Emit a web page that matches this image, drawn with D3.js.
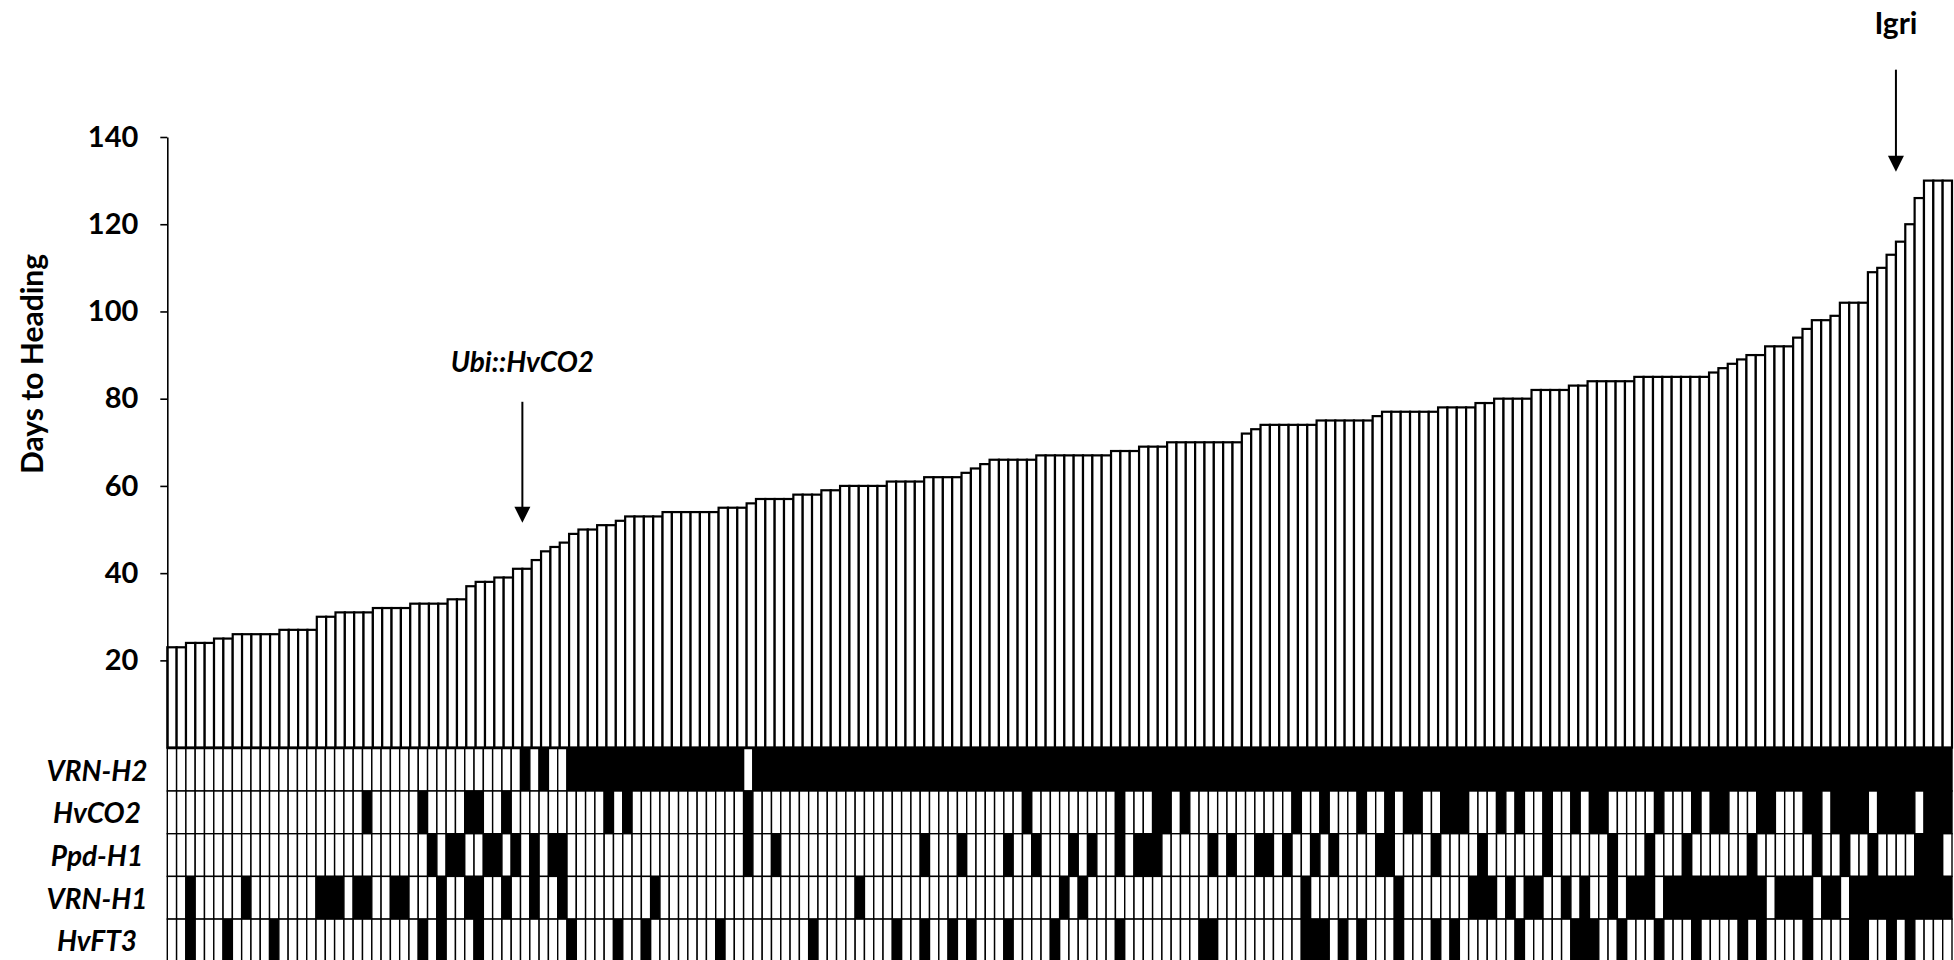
<!DOCTYPE html>
<html>
<head>
<meta charset="utf-8">
<script src="https://cdn.jsdelivr.net/npm/d3@7"></script>
<style>
  body { margin: 0; background: #fff; }
  text { font-family: Lato, "Open Sans", sans-serif; font-weight: bold; fill: #000; }
</style>
</head>
<body>
<div id="chart"></div>
<script>
// days to heading, one value per line, sorted
var daysToHeading = [
  23, 23, 24, 24, 24, 25, 25, 26, 26, 26, 26, 26, 27, 27, 27, 27,
  30, 30, 31, 31, 31, 31, 32, 32, 32, 32, 33, 33, 33, 33, 34, 34,
  37, 38, 38, 39, 39, 41, 41, 43, 45, 46, 47, 49, 50, 50, 51, 51,
  52, 53, 53, 53, 53, 54, 54, 54, 54, 54, 54, 55, 55, 55, 56, 57,
  57, 57, 57, 58, 58, 58, 59, 59, 60, 60, 60, 60, 60, 61, 61, 61,
  61, 62, 62, 62, 62, 63, 64, 65, 66, 66, 66, 66, 66, 67, 67, 67,
  67, 67, 67, 67, 67, 68, 68, 68, 69, 69, 69, 70, 70, 70, 70, 70,
  70, 70, 70, 72, 73, 74, 74, 74, 74, 74, 74, 75, 75, 75, 75, 75,
  75, 76, 77, 77, 77, 77, 77, 77, 78, 78, 78, 78, 79, 79, 80, 80,
  80, 80, 82, 82, 82, 82, 83, 83, 84, 84, 84, 84, 84, 85, 85, 85,
  85, 85, 85, 85, 85, 86, 87, 88, 89, 90, 90, 92, 92, 92, 94, 96,
  98, 98, 99, 102, 102, 102, 109, 110, 113, 116, 120, 126, 130, 130, 130
];

var genes = ["VRN-H2", "HvCO2", "Ppd-H1", "VRN-H1", "HvFT3"];
var matrixColumns = 192;

// black cells per gene, as [first, last] column runs
var vrnH2Runs = [[38, 38], [40, 40], [43, 61], [63, 191]];
var hvCO2Runs = [[21, 21], [27, 27], [32, 33], [36, 36], [47, 47], [49, 49], [62, 62], [92, 92],
  [102, 102], [106, 107], [109, 109], [121, 121], [124, 124], [128, 128], [131, 131], [133, 134],
  [137, 139], [143, 143], [145, 145], [148, 148], [151, 151], [153, 154], [160, 160], [164, 164],
  [166, 167], [171, 172], [176, 177], [179, 182], [184, 187], [189, 191]];
var ppdH1Runs = [[28, 28], [30, 31], [34, 35], [37, 37], [39, 39], [41, 42], [62, 62], [65, 65],
  [81, 81], [85, 85], [90, 90], [93, 93], [97, 97], [99, 99], [102, 102], [104, 106], [112, 112],
  [114, 114], [117, 118], [120, 120], [123, 123], [125, 125], [130, 131], [136, 136], [141, 141],
  [148, 148], [155, 155], [159, 159], [163, 163], [170, 170], [177, 177], [180, 180], [183, 183],
  [188, 190]];
var vrnH1Runs = [[2, 2], [8, 8], [16, 18], [20, 21], [24, 25], [29, 29], [32, 33], [36, 36],
  [39, 39], [42, 42], [52, 52], [74, 74], [96, 96], [98, 98], [122, 122], [132, 132], [140, 142],
  [144, 144], [146, 147], [150, 150], [152, 152], [155, 155], [157, 159], [161, 171], [173, 176],
  [178, 179], [181, 191]];
var hvFT3Runs = [[2, 2], [6, 6], [11, 11], [27, 27], [29, 29], [33, 33], [43, 43], [48, 48],
  [51, 51], [59, 59], [69, 69], [78, 78], [81, 81], [84, 84], [86, 86], [90, 90], [95, 95],
  [102, 102], [111, 112], [122, 124], [126, 126], [128, 128], [132, 132], [136, 136], [138, 138],
  [145, 145], [151, 153], [156, 156], [160, 160], [164, 164], [169, 169], [171, 171], [176, 176],
  [181, 182], [185, 185], [187, 187]];

var yTicks = [20, 40, 60, 80, 100, 120, 140];
var notes = [
  { label: "Ubi::HvCO2", bar: 38, italic: true },
  { label: "Igri", bar: 185, italic: false }
];

var W = 1954, H = 960;
var svg = d3.select("#chart").append("svg")
    .attr("width", W)
    .attr("height", H);

var x = d3.scaleBand()
    .domain(d3.range(daysToHeading.length))
    .range([167.3, 1952])
    .padding(0);
var y = d3.scaleLinear()
    .domain([0, 140])
    .range([747.6, 137]);

// bars
svg.append("g").selectAll("rect")
    .data(daysToHeading)
  .enter().append("rect")
    .attr("x", function(d, i) { return x(i); })
    .attr("width", x.bandwidth())
    .attr("y", function(d) { return y(d); })
    .attr("height", function(d) { return y(0) - y(d); })
    .attr("fill", "#fff")
    .attr("stroke", "#000")
    .attr("stroke-width", 2.2);

// y axis
var yAxis = svg.append("g")
    .attr("transform", "translate(167.3,0)")
    .call(d3.axisLeft(y).tickValues(yTicks).tickSize(7).tickSizeOuter(0).tickPadding(22));
yAxis.select(".domain").attr("stroke-width", 1.6);
yAxis.selectAll(".tick line").attr("stroke-width", 1.6);
yAxis.selectAll("text")
    .style("font-family", "Lato, 'Open Sans', sans-serif")
    .style("font-weight", "bold")
    .style("font-size", "29px");

svg.append("text")
    .attr("transform", "translate(31,364) rotate(-90)")
    .attr("text-anchor", "middle")
    .attr("dominant-baseline", "central")
    .style("font-size", "30px")
    .text("Days to Heading");

// genotype matrix
var xm = d3.scaleBand()
    .domain(d3.range(matrixColumns))
    .range([167.3, 1952]);
var rowY = d3.scaleBand()
    .domain(genes)
    .range([748.3, 961.8]);

function expand(runs) {
  var cells = d3.range(matrixColumns).map(function() { return 0; });
  runs.forEach(function(r) {
    for (var c = r[0]; c <= r[1]; c++) cells[c] = 1;
  });
  return cells;
}
var geneRuns = [vrnH2Runs, hvCO2Runs, ppdH1Runs, vrnH1Runs, hvFT3Runs];
var cellData = [];
genes.forEach(function(g, gi) {
  expand(geneRuns[gi]).forEach(function(v, c) {
    cellData.push({ gene: g, col: c, black: v });
  });
});

svg.append("g").selectAll("rect")
    .data(cellData)
  .enter().append("rect")
    .attr("x", function(d) { return xm(d.col); })
    .attr("y", function(d) { return rowY(d.gene); })
    .attr("width", xm.bandwidth())
    .attr("height", rowY.bandwidth())
    .attr("fill", function(d) { return d.black ? "#000" : "#fff"; })
    .attr("stroke", "#000")
    .attr("stroke-width", 1.4);

svg.append("line")
    .attr("x1", 167.3).attr("x2", 1952)
    .attr("y1", 748).attr("y2", 748)
    .attr("stroke", "#000")
    .attr("stroke-width", 2.5);

svg.append("g").selectAll("text")
    .data(genes)
  .enter().append("text")
    .attr("x", 97)
    .attr("y", function(d) { return rowY(d) + rowY.bandwidth() / 2; })
    .attr("text-anchor", "middle")
    .attr("dominant-baseline", "central")
    .style("font-size", "28px")
    .style("font-style", "italic")
    .text(function(d) { return d; });

// annotations with arrows
var noteGap = [46, 70];      // arrow tip above bar top
var noteLen = [121, 102];    // arrow length
var labelGap = [41, 48];     // label centre above arrow tail
notes.forEach(function(n, i) {
  var ax = x(n.bar);
  var tip = y(daysToHeading[n.bar]) - noteGap[i];
  var tail = tip - noteLen[i];
  svg.append("line")
    .attr("x1", ax).attr("x2", ax)
    .attr("y1", tail).attr("y2", tip - 14)
    .attr("stroke", "#000")
    .attr("stroke-width", 2);
  svg.append("path")
    .attr("d", "M" + (ax - 8) + "," + (tip - 16) + "L" + (ax + 8) + "," + (tip - 16) + "L" + ax + "," + tip + "Z")
    .attr("fill", "#000");
  svg.append("text")
    .attr("x", ax)
    .attr("y", tail - labelGap[i])
    .attr("text-anchor", "middle")
    .attr("dominant-baseline", "central")
    .style("font-size", n.italic ? "28px" : "30px")
    .style("font-style", n.italic ? "italic" : "normal")
    .text(n.label);
});
</script>
</body>
</html>
